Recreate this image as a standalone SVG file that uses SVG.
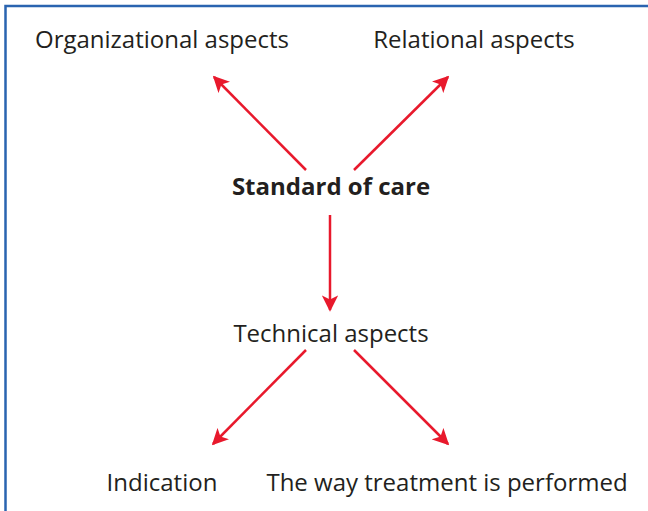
<svg xmlns="http://www.w3.org/2000/svg" width="648" height="511" viewBox="0 0 648 511">
<style>
.t{font-family:"Open Sans","Noto Sans","Liberation Sans",sans-serif;font-size:24px;fill:#231f20;text-anchor:middle}
.b{font-weight:bold}
.c{stroke:#e8192c;stroke-width:2.5;fill:none}
</style>
<defs>
<marker id="ah" viewBox="0 0 10 10" refX="9" refY="5" markerWidth="6.5" markerHeight="6.5" orient="auto" markerUnits="strokeWidth">
<path d="M0,0 L10,5 L0,10 L2.5,5 z" fill="#e8192c"/>
</marker>
</defs>
<rect width="648" height="511" fill="#fff"/>
<path d="M5.5,511 V6 H648" stroke="#2a64b0" stroke-width="2.5" fill="none"/>
<g id="connectors">
<line class="c" x1="306" y1="170" x2="214" y2="77" marker-end="url(#ah)"/>
<line class="c" x1="354" y1="170" x2="448" y2="77" marker-end="url(#ah)"/>
<line class="c" x1="330" y1="215" x2="330" y2="310" marker-end="url(#ah)"/>
<line class="c" x1="306" y1="350" x2="213" y2="444" marker-end="url(#ah)"/>
<line class="c" x1="354" y1="350" x2="448" y2="444" marker-end="url(#ah)"/>
</g>
<g id="organizational"><text class="t" x="162" y="48">Organizational aspects</text></g>
<g id="relational"><text class="t" x="474" y="48">Relational aspects</text></g>
<g id="standard"><text class="t b" x="331" y="195">Standard of care</text></g>
<g id="technical"><text class="t" x="331" y="342">Technical aspects</text></g>
<g id="indication"><text class="t" x="162" y="491">Indication</text></g>
<g id="way"><text class="t" x="447" y="491">The way treatment is performed</text></g>
</svg>
